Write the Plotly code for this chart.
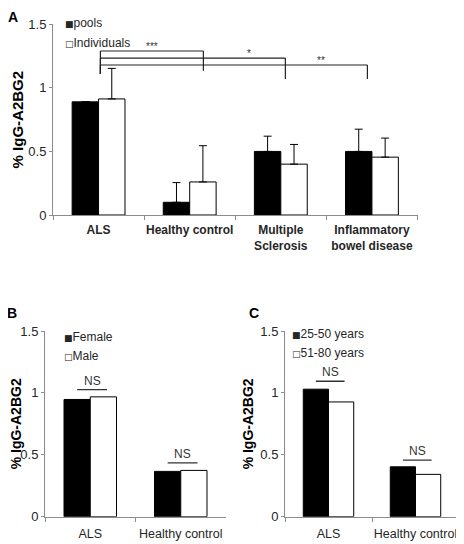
import plotly.graph_objects as go

# ---------------- data ----------------
cats_A = ["ALS", "Healthy control", "Multiple<br>Sclerosis", "Inflammatory<br>bowel disease"]
pools = [0.89, 0.10, 0.50, 0.50]
pools_err = [0.0, 0.155, 0.12, 0.175]
individuals = [0.913, 0.26, 0.40, 0.455]
individuals_err = [0.24, 0.285, 0.155, 0.15]

cats_BC = ["ALS", "Healthy control"]
female = [0.947, 0.366]
male = [0.968, 0.374]
age_25_50 = [1.03, 0.403]
age_51_80 = [0.927, 0.342]

series_A = ["pools", "Individuals"]
series_B = ["Female", "Male"]
series_C = ["25-50 years", "51-80 years"]
y_ticks = [0, 0.5, 1, 1.5]
y_ticktext = ["0", "0.5", "1", "1.5"]
y_title = "% IgG-A2BG2"

# significance brackets (panel A): x_left, x_right, y_top, y_right_end, label
brackets_A = [
    (0.02, 1.15, 1.29, 1.134, "***"),
    (0.02, 2.05, 1.234, 1.07, "*"),
    (0.02, 2.95, 1.18, 1.07, "**"),
]
bracket_left_bottom = 1.11
label_x_A = [0.59, 1.65, 2.44]

# NS markers (panels B and C): y level per category
ns_B = [1.027, 0.435]
ns_C = [1.094, 0.457]

# ---------------- style ----------------
# the page body has an 8px margin, so the figure is drawn 8px in from the window edge
OFF = 8
W, H = 464 - OFF, 544 - OFF
FONT = "Liberation Sans, Arial, sans-serif"
AX = "#8c8c8c"
TXT = "#262626"


def px_x(p):
    return (p - OFF) / W


def px_y(p):
    return 1 - (p - OFF) / H


def bar(x, y, name, fill, xa, ya, err=None):
    kw = {}
    if err is not None:
        kw["error_y"] = dict(type="data", array=err, arrayminus=[0] * len(err),
                             symmetric=False, color="black", thickness=1, width=4)
    return go.Bar(x=x, y=y, name=name, xaxis=xa, yaxis=ya, showlegend=False,
                  marker=dict(color=fill, line=dict(color="black", width=1)), **kw)


fig = go.Figure()
fig.add_trace(bar(cats_A, pools, series_A[0], "black", "x", "y", pools_err))
fig.add_trace(bar(cats_A, individuals, series_A[1], "white", "x", "y", individuals_err))
fig.add_trace(bar(cats_BC, female, series_B[0], "black", "x2", "y2"))
fig.add_trace(bar(cats_BC, male, series_B[1], "white", "x2", "y2"))
fig.add_trace(bar(cats_BC, age_25_50, series_C[0], "black", "x3", "y3"))
fig.add_trace(bar(cats_BC, age_51_80, series_C[1], "white", "x3", "y3"))


def xaxis(domain, anchor, bold, size, lab_off):
    return dict(domain=domain, anchor=anchor, type="category", showline=True, linecolor=AX,
                linewidth=1, ticks="outside", tickson="boundaries", ticklen=4, tickcolor=AX,
                tickangle=0, automargin=False, ticklabelstandoff=lab_off,
                tickfont=dict(size=size, color=TXT, family=FONT, weight="bold" if bold else "normal"),
                showgrid=False, zeroline=False, fixedrange=True)


def yaxis(domain, anchor, tsize, standoff):
    return dict(domain=domain, anchor=anchor, range=[0, 1.5], tickvals=y_ticks, ticktext=y_ticktext,
                showline=True, linecolor=AX, linewidth=1, ticks="outside", ticklen=3, tickcolor=AX,
                automargin=False,
                tickfont=dict(size=13, color=TXT, family=FONT), showgrid=False, zeroline=False,
                title=dict(text=y_title, font=dict(size=tsize, color="black", family=FONT, weight="bold"),
                           standoff=standoff), fixedrange=True)


fig.update_layout(
    width=W, height=H, margin=dict(l=0, r=0, t=0, b=0, autoexpand=False),
    paper_bgcolor="white", plot_bgcolor="white",
    barmode="group", bargap=0.42, bargroupgap=0,
    font=dict(family=FONT, color=TXT),
    xaxis=xaxis([px_x(53), px_x(417.5)], "y", True, 12, 4),
    yaxis=yaxis([px_y(215), px_y(24.3)], "x", 15, 1),
    xaxis2=xaxis([px_x(45), px_x(226)], "y2", False, 12.5, 5),
    yaxis2=yaxis([px_y(516.7), px_y(331)], "x2", 14, 3),
    xaxis3=xaxis([px_x(285), px_x(459)], "y3", False, 12.5, 5),
    yaxis3=yaxis([px_y(516.7), px_y(331)], "x3", 14, 3),
)

shapes = []
annotations = []
line_style = dict(color="#222222", width=1.2)
for (x0, x1, yt, yr, lab), lx in zip(brackets_A, label_x_A):
    shapes.append(dict(type="line", xref="x", yref="y", x0=x0, x1=x1, y0=yt, y1=yt, line=line_style))
    shapes.append(dict(type="line", xref="x", yref="y", x0=x0, x1=x0, y0=yt, y1=bracket_left_bottom, line=line_style))
    shapes.append(dict(type="line", xref="x", yref="y", x0=x1, x1=x1, y0=yt, y1=yr, line=line_style))
    annotations.append(dict(xref="x", yref="y", x=lx, y=yt, text=lab, showarrow=False,
                            yanchor="bottom", yshift=-3, font=dict(size=10, color="#333333")))

for xr, yr, levels in (("x2", "y2", ns_B), ("x3", "y3", ns_C)):
    for i, lv in enumerate(levels):
        shapes.append(dict(type="line", xref=xr, yref=yr, x0=i - 0.145, x1=i + 0.185, y0=lv, y1=lv,
                           line=dict(color="#333333", width=1.3)))
        annotations.append(dict(xref=xr, yref=yr, x=i + 0.02, y=lv, text="NS", showarrow=False,
                                yanchor="bottom", yshift=0, font=dict(size=12, color="#333333")))

# legends (as text keys)
SQ = '<span style="font-family:DejaVu Sans;font-size:9px">{}</span>'
for names, lx, ys in ((series_A, 62.5, (22.7, 43.3)), (series_B, 62, (336.7, 356)),
                      (series_C, 289.5, (334.3, 353.3))):
    for sym, nm, yy in zip(("\u25A0", "\u25A1"), names, ys):
        annotations.append(dict(xref="paper", yref="paper", x=px_x(lx), y=px_y(yy), text=SQ.format(sym) + nm,
                                showarrow=False, xanchor="left", yanchor="middle",
                                font=dict(size=12, color=TXT)))

# panel letters
annotations.append(dict(xref="paper", yref="paper", x=px_x(13), y=1, text="A", showarrow=False,
                        xanchor="center", yanchor="top", borderpad=0,
                        font=dict(size=14, color="black", weight="bold")))
for lab, lx, ly in (("B", 12, 313), ("C", 253.5, 313)):
    annotations.append(dict(xref="paper", yref="paper", x=px_x(lx), y=px_y(ly), text=lab,
                            showarrow=False, xanchor="center", yanchor="middle",
                            font=dict(size=14, color="black", weight="bold")))

fig.update_layout(shapes=shapes, annotations=annotations)
fig.write_html("out.html")
